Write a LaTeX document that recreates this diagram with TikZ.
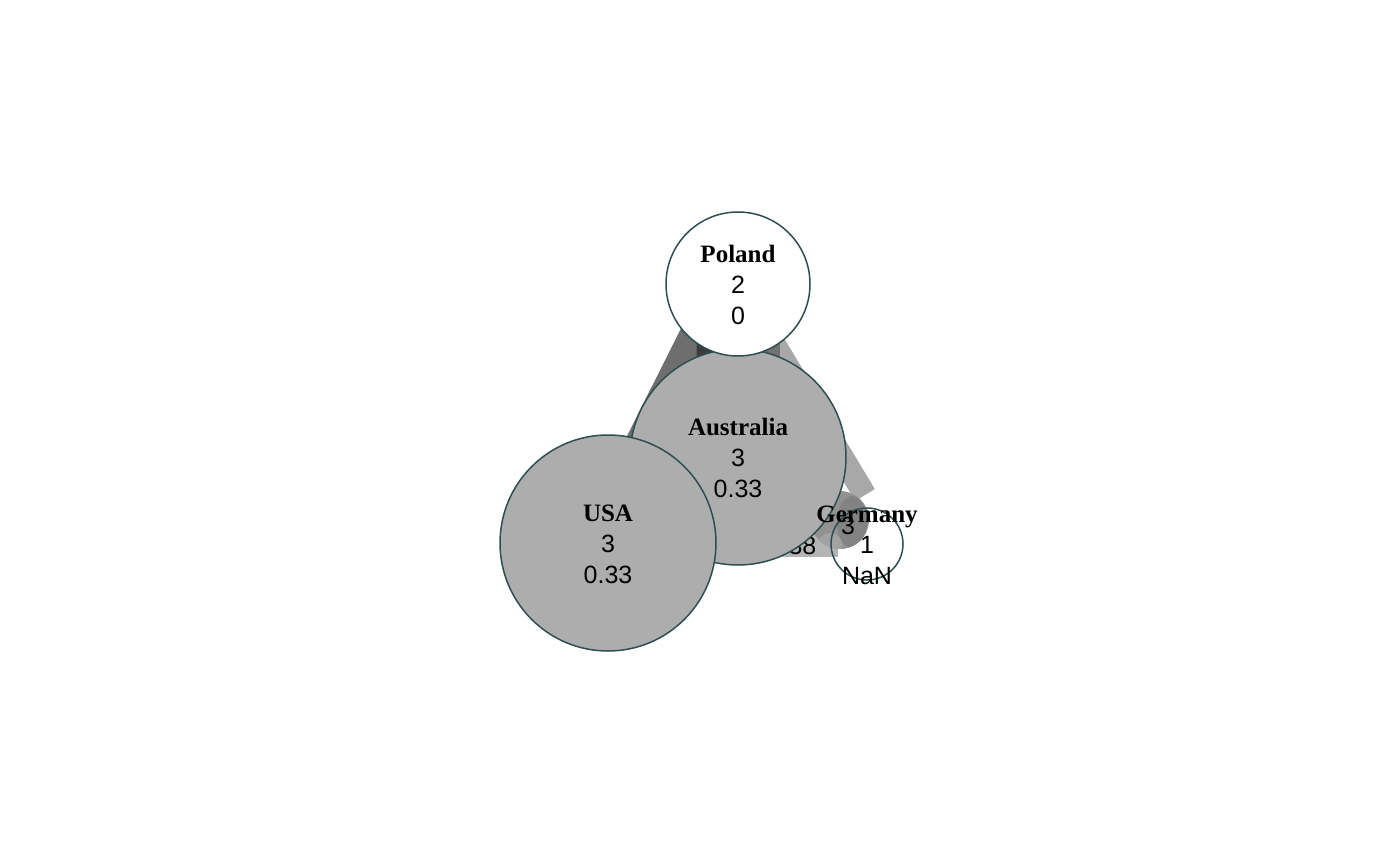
\documentclass[tikz,border=0pt]{standalone}
\usepackage{fontspec}
\usetikzlibrary{calc}
\setmainfont{Liberation Serif}
\newfontfamily\arialf{Liberation Sans}
\pgfdeclarelayer{background}
\pgfsetlayers{background,main}
\definecolor{nodeline}{HTML}{2F4F4F}
\definecolor{nodegrey}{HTML}{ADADAD}
\definecolor{pgcol}{HTML}{A8A8A8}
\definecolor{pucol}{HTML}{6E6E6E}
\definecolor{pacol}{HTML}{727272}
\definecolor{papucol}{HTML}{3C3C3C}
\definecolor{ugcol}{HTML}{B4B4B4}
\definecolor{blobout}{HTML}{929292}
\definecolor{blobin}{HTML}{838383}
\definecolor{bloblight}{HTML}{A2A2A2}
\begin{document}
\begin{tikzpicture}[x=1pt,y=-1pt,
  nodecirc/.style={circle, draw=nodeline, line width=1.5pt, inner sep=0pt, minimum size=#1},
  lbl/.style={align=center, font=\fontsize{25}{31}\selectfont\arialf, text=black, inner sep=0pt}
  ]
\useasboundingbox (0,0) rectangle (1400,866);

% node circles
\node[nodecirc=216pt, fill=nodegrey] (A) at (738,457) {};
\node[nodecirc=216pt, fill=nodegrey] (U) at (608,543) {};
\node[nodecirc=144pt, fill=white] (P) at (738,284) {};
\node[nodecirc=72pt] (G) at (867,544) {};

% node texts
\node[lbl, yshift=-1pt] (At) at (A) {{\rmfamily\bfseries Australia}\\3\\0.33};
\node[lbl, yshift=-1pt] (Ut) at (U) {{\rmfamily\bfseries USA}\\3\\0.33};
\node[lbl, yshift=-1pt] (Pt) at (P) {{\rmfamily\bfseries Poland}\\2\\0};
\node[lbl, yshift=-1pt] (Gt) at (G) {{\rmfamily\bfseries Germany}\\1\\NaN};

\coordinate (pgend) at (865,495);
\coordinate (ugend) at (838,544);

\begin{pgfonlayer}{background}
  % Poland - Germany
  \draw[line width=23pt, draw=pgcol] (P.center) -- (pgend);
  % Poland - USA
  \draw[line width=62pt, draw=pucol] (P.center) -- (U.center);
  % Poland - Australia
  \draw[line width=83pt, draw=pacol] (P.center) -- (A.center);
  \begin{scope}
    \clip ($(P.center)+(-41.5,0)$) rectangle ($(A.center)+(41.5,0)$);
    \draw[line width=62pt, draw=papucol] (P.center) -- (U.center);
  \end{scope}
  % USA - Germany
  \draw[line width=26pt, draw=ugcol] (U.center) -- (ugend);
  % loop at Germany
  \begin{scope}
    \fill[blobout] (840,520) circle[radius=29];
    \clip (840,520) circle[radius=29];
    \fill[blobin] (852,522) ellipse[x radius=15, y radius=26];
    \fill[bloblight] (830,545) circle[radius=12];
  \end{scope}
  \node[lbl] (l1) at (848,526) {3};
  \node[lbl] (l2) at (792,546) {0.38};
\end{pgfonlayer}
\end{tikzpicture}
\end{document}
